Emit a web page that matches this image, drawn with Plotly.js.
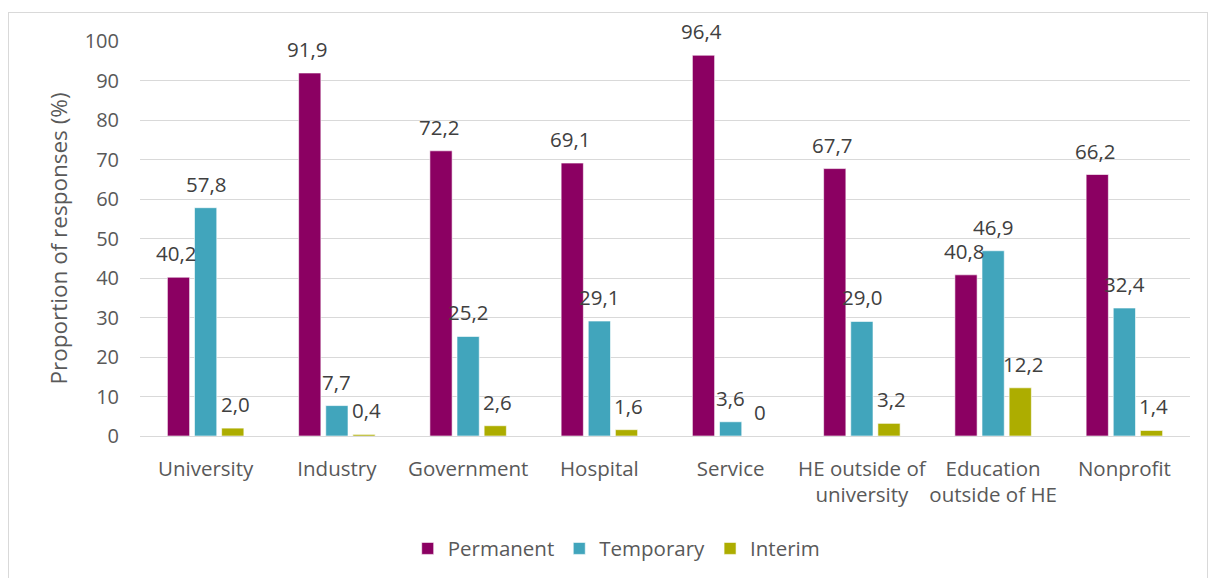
<!DOCTYPE html>
<html>
<head>
<meta charset="utf-8">
<script src="https://cdn.plot.ly/plotly-3.0.1.min.js"></script>
<style>
html,body{margin:0;padding:0;background:#fff;}
#wrap{position:relative;width:1216px;height:578px;overflow:hidden;}
#frame{position:absolute;left:8px;top:12px;width:1200px;height:600px;border:1px solid #D9D9D9;box-sizing:border-box;}
#chart{position:absolute;left:0;top:0;width:1216px;height:578px;}
</style>
</head>
<body>
<div id="wrap"><div id="frame"></div><div id="chart"></div></div>
<script>
const categories = ["University","Industry","Government","Hospital","Service","HE outside of<br>university","Education<br>outside of HE","Nonprofit"];
const permanent = [40.2, 91.9, 72.2, 69.1, 96.4, 67.7, 40.8, 66.2];
const temporary = [57.8, 7.7, 25.2, 29.1, 3.6, 29.0, 46.9, 32.4];
const interim = [2.0, 0.4, 2.6, 1.6, 0, 3.2, 12.2, 1.4];
const seriesNames = ["Permanent","Temporary","Interim"];
const colors = ["#8B0062","#41A5BC","#ADAD00"];

function fmt(v){ return v === 0 ? "0" : v.toFixed(1).replace(".", ","); }

const font = "'Open Sans', 'Noto Sans', sans-serif";
const allSeries = [permanent, temporary, interim];
const traces = allSeries.map((vals, i) => ({
  type: "bar",
  name: seriesNames[i],
  x: categories,
  y: vals,
  marker: {color: colors[i], line: {color: "rgba(255,255,255,0.6)", width: 1}},
  hoverinfo: "x+y"
}));

// data labels placed above each bar (offset per series within the group)
const slotShift = [-29.5, 0, 29.5];
const annotations = [];
allSeries.forEach((vals, i) => {
  vals.forEach((v, j) => {
    annotations.push({
      x: categories[j], y: v, xref: "x", yref: "y",
      text: fmt(v), showarrow: false,
      xanchor: "center", yanchor: "bottom",
      xshift: slotShift[i], yshift: 8,
      font: {family: font, size: 20.5, color: "#404040"}
    });
  });
});

const layout = {
  width: 1216, height: 578,
  margin: {l: 140, r: 26, t: 41, b: 142, autoexpand: false},
  paper_bgcolor: "rgba(0,0,0,0)",
  plot_bgcolor: "rgba(0,0,0,0)",
  barmode: "group",
  bargap: 0.38,
  bargroupgap: 0.18,
  font: {family: font, color: "#595959", size: 18},
  showlegend: true,
  annotations: annotations,
  legend: {orientation: "h", x: 0.454, xanchor: "center", y: -0.285, yanchor: "middle",
           font: {family: font, size: 20.5, color: "#595959"}, itemwidth: 30, traceorder: "normal"},
  xaxis: {
    type: "category", showgrid: false, zeroline: false, showline: false, ticks: "",
    ticklabelstandoff: 18, tickangle: 0,
    tickfont: {family: font, size: 20.5, color: "#595959"}
  },
  yaxis: {
    range: [0, 100], dtick: 10, tick0: 0,
    showgrid: true, gridcolor: "#D9D9D9", gridwidth: 1,
    zeroline: true, zerolinecolor: "#D9D9D9", zerolinewidth: 1,
    showline: false, ticks: "", ticklen: 0,
    ticklabelstandoff: 20,
    tickfont: {family: font, size: 20, color: "#595959"},
    title: {text: "Proportion of responses (%)", font: {family: font, size: 22.5, color: "#595959"}, standoff: 10}
  }
};

Plotly.newPlot("chart", traces, layout, {displayModeBar: false, staticPlot: true});
</script>
</body>
</html>
